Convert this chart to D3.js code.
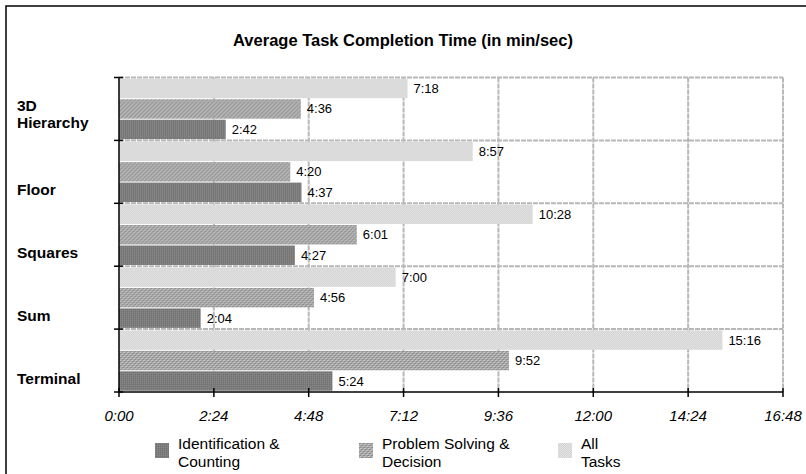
<!DOCTYPE html>
<html>
<head>
<meta charset="utf-8">
<script src="https://cdn.jsdelivr.net/npm/d3@7"></script>
<style>
  body { margin: 0; background: #fff; }
  svg { display: block; font-family: "Liberation Sans", Arial, sans-serif; }
</style>
</head>
<body>
<div id="chart"></div>
<script>
//////////////////////////// data /////////////////////////////////////////

const categories = ["3D Hierarchy", "Floor", "Squares", "Sum", "Terminal"];
const series = ["All Tasks", "Problem Solving & Decision", "Identification & Counting"];
// times in seconds, per category
const allTasks = [438, 537, 628, 420, 916];       // 7:18 8:57 10:28 7:00 15:16
const problemSolving = [276, 260, 361, 296, 592]; // 4:36 4:20 6:01 4:56 9:52
const identification = [162, 277, 267, 124, 324]; // 2:42 4:37 4:27 2:04 5:24
const tickValues = [0, 144, 288, 432, 576, 720, 864, 1008];
const legendLabels = [["Identification &", "Counting"], ["Problem Solving &", "Decision"], ["All", "Tasks"]];
const legendKeys = ["Identification & Counting", "Problem Solving & Decision", "All Tasks"];

const valuesBySeries = {
  "All Tasks": allTasks,
  "Problem Solving & Decision": problemSolving,
  "Identification & Counting": identification
};

const fmt = (s) => Math.floor(s / 60) + ":" + String(s % 60).padStart(2, "0");

//////////////////////////// set up svg ///////////////////////////////////

const width = 806, height = 474;
const margin = { top: 77.5, right: 23, bottom: 82, left: 119 };

const svg = d3.select("#chart").append("svg")
  .attr("width", width).attr("height", height);

// patterns
const defs = svg.append("defs");
const makePattern = (id, size, bg, cells) => {
  const p = defs.append("pattern").attr("id", id)
    .attr("width", size).attr("height", size)
    .attr("patternUnits", "userSpaceOnUse");
  p.append("rect").attr("width", size).attr("height", size).attr("fill", bg);
  cells.forEach(([x, y, c]) => p.append("rect").attr("x", x).attr("y", y)
    .attr("width", 1).attr("height", 1).attr("fill", c));
};
makePattern("pAll", 2, "#e4e4e4", [[0, 0, "#d2d2d2"], [1, 1, "#d2d2d2"]]);
makePattern("pPS", 4, "#a8a8a8", [[0, 0, "#8c8c8c"], [1, 0, "#8c8c8c"], [1, 1, "#c4c4c4"], [2, 1, "#c4c4c4"],
  [2, 2, "#8c8c8c"], [3, 2, "#8c8c8c"], [3, 3, "#c4c4c4"], [0, 3, "#c4c4c4"]]);
makePattern("pID", 2, "#7c7c7c", [[0, 0, "#888"], [1, 1, "#727272"]]);

const fills = {
  "All Tasks": "url(#pAll)",
  "Problem Solving & Decision": "url(#pPS)",
  "Identification & Counting": "url(#pID)"
};

// outer frame
svg.append("rect").attr("x", 6).attr("y", 6)
  .attr("width", width + 20).attr("height", height + 20)
  .attr("fill", "none").attr("stroke", "#000").attr("stroke-width", 1.5);

// title
svg.append("text").attr("x", 403).attr("y", 46)
  .attr("text-anchor", "middle").attr("font-weight", "bold").attr("font-size", 16.5)
  .text("Average Task Completion Time (in min/sec)");

//////////////////////////// scales ///////////////////////////////////////

const x = d3.scaleLinear().domain([0, 1008]).range([margin.left, width - margin.right]);
const y = d3.scaleBand().domain(categories).range([margin.top, height - margin.bottom]);
const ySub = d3.scaleBand().domain(series).range([0, y.bandwidth()])
  .paddingInner(0.05).paddingOuter(0.06);

//////////////////////////// grid /////////////////////////////////////////

const grid = svg.append("g").attr("stroke", "#b8b8b8").attr("stroke-width", 2)
  .attr("stroke-dasharray", "5,1");
grid.selectAll("line.v").data(tickValues.slice(1)).join("line")
  .attr("x1", (d) => x(d)).attr("x2", (d) => x(d))
  .attr("y1", margin.top).attr("y2", height - margin.bottom);
grid.selectAll("line.h").data(categories).join("line")
  .attr("x1", margin.left).attr("x2", x(1008))
  .attr("y1", (d) => y(d)).attr("y2", (d) => y(d));

//////////////////////////// bars /////////////////////////////////////////

const groups = svg.append("g").selectAll("g").data(categories).join("g")
  .attr("transform", (d) => `translate(0,${y(d)})`);

groups.selectAll("rect").data((d, i) => series.map((s) => ({ s, v: valuesBySeries[s][i] })))
  .join("rect")
  .attr("x", x(0))
  .attr("y", (d) => ySub(d.s))
  .attr("width", (d) => x(d.v) - x(0))
  .attr("height", ySub.bandwidth())
  .attr("fill", (d) => fills[d.s]);

groups.selectAll("text").data((d, i) => series.map((s) => ({ s, v: valuesBySeries[s][i] })))
  .join("text")
  .attr("x", (d) => x(d.v) + 6)
  .attr("y", (d) => ySub(d.s) + ySub.bandwidth() / 2 + 4.5)
  .attr("font-size", 13)
  .text((d) => fmt(d.v));

//////////////////////////// axes /////////////////////////////////////////

const xAxis = svg.append("g").attr("transform", `translate(0,${height - margin.bottom})`);
xAxis.append("line").attr("x1", x(0)).attr("x2", x(1008)).attr("stroke", "#000").attr("stroke-width", 1.5);
xAxis.selectAll("line.t").data(tickValues).join("line")
  .attr("x1", (d) => x(d)).attr("x2", (d) => x(d)).attr("y1", -4).attr("y2", 5)
  .attr("stroke", "#000").attr("stroke-width", 1.5);
xAxis.selectAll("text").data(tickValues).join("text")
  .attr("x", (d) => x(d)).attr("y", 29)
  .attr("text-anchor", "middle").attr("font-style", "italic").attr("font-size", 15)
  .text(fmt);

const yAxis = svg.append("g");
yAxis.append("line").attr("x1", x(0)).attr("x2", x(0))
  .attr("y1", margin.top).attr("y2", height - margin.bottom)
  .attr("stroke", "#000").attr("stroke-width", 1.5);
yAxis.selectAll("line.t").data(categories.concat(["end"])).join("line")
  .attr("x1", x(0) - 5).attr("x2", x(0) + 4)
  .attr("y1", (d) => (d === "end" ? height - margin.bottom : y(d)))
  .attr("y2", (d) => (d === "end" ? height - margin.bottom : y(d)))
  .attr("stroke", "#000").attr("stroke-width", 1.5);

yAxis.selectAll("text").data(categories).join("text")
  .attr("font-weight", "bold").attr("font-size", 15.5)
  .each(function (d) {
    const words = d.split(" ");
    const bottom = y(d) + y.bandwidth();
    const lastY = words.length > 1 ? bottom - 12 : bottom - 8;
    d3.select(this).selectAll("tspan").data(words).join("tspan")
      .attr("x", 17)
      .attr("y", (w, i) => lastY - (words.length - 1 - i) * 17)
      .text((w) => w);
  });

//////////////////////////// legend ///////////////////////////////////////

const legendX = [155, 359, 558];
const legend = svg.append("g").selectAll("g").data(legendKeys).join("g")
  .attr("transform", (d, i) => `translate(${legendX[i]},443)`);
legend.append("rect").attr("width", 14).attr("height", 15).attr("fill", (d) => fills[d]);
legend.append("text").attr("font-size", 15.5)
  .selectAll("tspan").data((d, i) => legendLabels[i]).join("tspan")
  .attr("x", 23)
  .attr("y", (d, i) => 6 + i * 18)
  .text((d) => d);
</script>
</body>
</html>
